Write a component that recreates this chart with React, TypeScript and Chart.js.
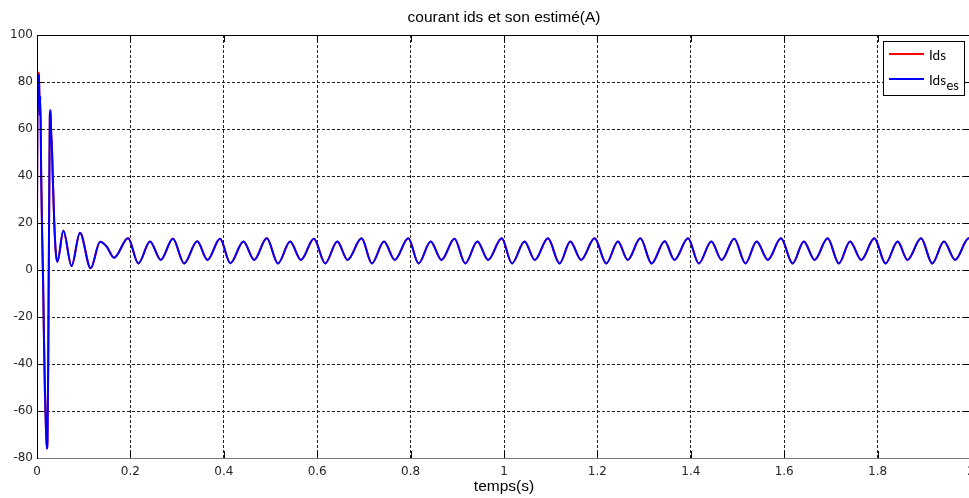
import React, { useEffect, useRef } from 'react';
import { Chart, registerables } from 'chart.js';

Chart.register(...registerables);

// ---- texts ----
const chartTitle = 'courant ids et son estimé(A)';
const xAxisTitle = 'temps(s)';
const seriesNames = ['Ids', 'Ids'];
const seriesSubscripts = ['', 'es'];
const seriesColors = ['#ff0000', '#0000ff'];

// ---- axes ----
const xMin = 0;
const xMax = 2;
const xStep = 0.2;
const yMin = -80;
const yMax = 100;
const yStep = 20;

// ---- data (time in s, current in A) ----
const timeValues = [
  0, 0.0015, 0.003, 0.0045, 0.0055, 0.007, 0.009, 0.011, 0.013, 0.015,
  0.017, 0.019, 0.021, 0.0225, 0.024, 0.025, 0.0265, 0.0275, 0.029, 0.03,
  0.032, 0.034, 0.037, 0.04, 0.0436, 0.0565, 0.074, 0.092, 0.115, 0.135,
  0.1495, 0.165,
  0.195, 0.217, 0.242, 0.265,
  0.291, 0.315, 0.343, 0.365,
  0.392, 0.414, 0.442, 0.465,
  0.492, 0.516, 0.542, 0.565,
  0.593, 0.617, 0.643, 0.665,
  0.695, 0.717, 0.743, 0.766,
  0.795, 0.817, 0.843, 0.866,
  0.894, 0.917, 0.943, 0.966,
  0.995, 1.017, 1.044, 1.066,
  1.094, 1.119, 1.142, 1.165,
  1.194, 1.219, 1.244, 1.265,
  1.292, 1.316, 1.344, 1.365,
  1.394, 1.417, 1.444, 1.466,
  1.493, 1.517, 1.541, 1.565,
  1.593, 1.618, 1.642, 1.665,
  1.693, 1.717, 1.741, 1.765,
  1.793, 1.817, 1.843, 1.864,
  1.893, 1.917, 1.942, 1.966,
  1.995, 2.0,
];

const idsValues = [
  23, 84, 80, 84, 66, 74, 40, 15, -4, -30,
  -52, -66, -76, -72, -40, -6, 40, 66, 68, 60,
  52, 38, 20, 8, 3.5, 16.7, 1.7, 15.9, 0.7, 12,
  9.9, 5.2,
  13.6, 2.8, 12.1, 4.3,
  13.4, 2.8, 12.2, 4.3,
  13.3, 2.9, 12.1, 4.3,
  13.6, 2.8, 12.1, 4.3,
  13.3, 2.8, 12.1, 4.3,
  13.5, 2.8, 12.1, 4.3,
  13.5, 2.8, 12.1, 4.3,
  13.3, 2.8, 12.1, 4.3,
  13.5, 2.8, 12.1, 4.3,
  13.5, 2.8, 12.1, 4.3,
  13.5, 2.8, 12.1, 4.3,
  13.5, 2.8, 12.2, 4.3,
  13.5, 2.8, 12.1, 4.3,
  13.3, 2.8, 12.1, 4.3,
  13.5, 2.8, 12.1, 4.3,
  13.5, 2.8, 12.1, 4.3,
  13.5, 2.8, 12.1, 4.3,
  13.5, 2.8, 12.1, 4.3,
  13.5, 13.2,
];

const idsEsValues = [
  23, 83, 80, 83, 66, 74, 40, 15, -4, -30,
  -52, -66, -76, -72, -40, -6, 40, 66, 68, 60,
  52, 38, 20, 8, 3.5, 16.7, 1.7, 15.9, 0.7, 12,
  9.9, 5.2,
  13.5, 2.8, 12.1, 4.3,
  13.3, 2.8, 12.2, 4.3,
  13.3, 2.9, 12.1, 4.3,
  13.5, 2.8, 12.1, 4.3,
  13.3, 2.8, 12.1, 4.3,
  13.5, 2.8, 12.1, 4.3,
  13.5, 2.8, 12.1, 4.3,
  13.3, 2.8, 12.1, 4.3,
  13.5, 2.8, 12.1, 4.3,
  13.5, 2.8, 12.1, 4.3,
  13.5, 2.8, 12.1, 4.3,
  13.5, 2.8, 12.2, 4.3,
  13.5, 2.8, 12.1, 4.3,
  13.3, 2.8, 12.1, 4.3,
  13.5, 2.8, 12.1, 4.3,
  13.5, 2.8, 12.1, 4.3,
  13.5, 2.8, 12.1, 4.3,
  13.5, 2.8, 12.1, 4.3,
  13.5, 13.2,
];

const TICK_FONT = { family: "'DejaVu Sans', sans-serif", size: 12 };

const titlePlugin = {
  id: 'matlabTitle',
  afterDraw(chart: any) {
    const { ctx, chartArea: a } = chart;
    ctx.save();
    ctx.fillStyle = '#000';
    ctx.font = "15.5px 'Liberation Sans', Arial, sans-serif";
    ctx.textAlign = 'center';
    ctx.textBaseline = 'middle';
    ctx.fillText(chartTitle, (a.left + a.right) / 2, 17.5);
    ctx.restore();
  },
};

const framePlugin = {
  id: 'matlabFrame',
  afterDatasetsDraw(chart: any) {
    const { ctx, chartArea: a, scales } = chart;
    const line = (x1: number, y1: number, x2: number, y2: number) => {
      ctx.beginPath();
      ctx.moveTo(x1, y1);
      ctx.lineTo(x2, y2);
      ctx.stroke();
    };
    ctx.save();
    ctx.lineWidth = 1;
    ctx.setLineDash([]);
    ctx.strokeStyle = '#000';
    const tl = 7;
    scales.x.ticks.forEach((t: any) => {
      const px = Math.round(scales.x.getPixelForValue(t.value)) + 0.5;
      line(px, a.bottom, px, a.bottom - tl);
      line(px, a.top, px, a.top + tl);
    });
    scales.y.ticks.forEach((t: any) => {
      const py = Math.round(scales.y.getPixelForValue(t.value)) + 0.5;
      line(a.left, py, a.left + tl, py);
      line(a.right, py, a.right - tl, py);
    });
    // top, left, right
    ctx.strokeStyle = '#000';
    line(a.left, a.top + 0.5, a.right, a.top + 0.5);
    line(a.left + 0.5, a.top, a.left + 0.5, a.bottom + 1);
    line(a.right - 0.5, a.top, a.right - 0.5, a.bottom);
    // bottom (grey)
    ctx.strokeStyle = '#7a7a7a';
    line(a.left + 1, a.bottom + 0.5, a.right, a.bottom + 0.5);
    ctx.restore();
  },
};

const legendPlugin = {
  id: 'matlabLegend',
  afterDraw(chart: any) {
    const { ctx } = chart;
    const box = { left: 883, top: 41, width: 82, height: 55 };
    ctx.save();
    ctx.fillStyle = '#fff';
    ctx.fillRect(box.left, box.top, box.width, box.height);
    ctx.strokeStyle = '#000';
    ctx.lineWidth = 1;
    ctx.strokeRect(box.left + 0.5, box.top + 0.5, box.width - 1, box.height - 1);
    const rowY = [box.top + 13, box.top + 38];
    seriesNames.forEach((name, i) => {
      const y = rowY[i];
      ctx.strokeStyle = seriesColors[i];
      ctx.lineWidth = 2;
      ctx.beginPath();
      ctx.moveTo(box.left + 6, y);
      ctx.lineTo(box.left + 41, y);
      ctx.stroke();
      ctx.fillStyle = '#000';
      ctx.font = "13.5px Lato, 'Open Sans', sans-serif";
      ctx.textAlign = 'left';
      ctx.textBaseline = 'alphabetic';
      const tx = box.left + 46;
      ctx.fillText(name, tx, y + 5.5);
      if (seriesSubscripts[i]) {
        const w = ctx.measureText(name).width;
        ctx.font = "13px Lato, 'Open Sans', sans-serif";
        ctx.fillText(seriesSubscripts[i], tx + w + 0.5, y + 11);
      }
    });
    ctx.restore();
  },
};

const formatTick = (v: number) => String(Number(v.toFixed(1)));

export default function App() {
  const canvasRef = useRef<HTMLCanvasElement | null>(null);

  useEffect(() => {
    const canvas = canvasRef.current;
    if (!canvas) return;
    const toPoints = (vals: number[]) => timeValues.map((t, i) => ({ x: t, y: vals[i] }));
    const chart = new Chart(canvas, {
      type: 'line',
      data: {
        datasets: [
          {
            label: seriesNames[0],
            data: toPoints(idsValues),
            borderColor: seriesColors[0],
            borderWidth: 2,
            pointRadius: 0,
            cubicInterpolationMode: 'monotone',
            fill: false,
            order: 2,
          },
          {
            label: seriesNames[1] + seriesSubscripts[1],
            data: toPoints(idsEsValues),
            borderColor: seriesColors[1],
            borderWidth: 2,
            pointRadius: 0,
            cubicInterpolationMode: 'monotone',
            fill: false,
            order: 1,
          },
        ],
      },
      options: {
        animation: false,
        responsive: false,
        maintainAspectRatio: false,
        devicePixelRatio: 1,
        layout: { padding: { top: 35, left: 0, right: 0, bottom: 0 } },
        plugins: {
          legend: { display: false },
          title: { display: false },
          tooltip: { enabled: false },
        },
        scales: {
          x: {
            type: 'linear',
            min: xMin,
            max: xMax,
            ticks: {
              stepSize: xStep,
              color: '#262626',
              font: TICK_FONT,
              padding: 7,
              maxRotation: 0,
              autoSkip: false,
              callback: (v: any) => formatTick(Number(v)),
            },
            grid: { color: '#222', lineWidth: 1, drawTicks: false },
            border: { display: false, dash: [3, 2] },
            title: {
              display: true,
              text: xAxisTitle,
              color: '#000',
              font: { family: "'Liberation Sans', Arial, sans-serif", size: 15.5 },
              padding: { top: 0, bottom: 2 },
            },
            afterFit: (s: any) => {
              s.height = 40;
              s.paddingLeft = 0;
              s.paddingRight = 0;
            },
          },
          y: {
            type: 'linear',
            min: yMin,
            max: yMax,
            ticks: {
              stepSize: yStep,
              color: '#262626',
              font: TICK_FONT,
              padding: 4,
            },
            grid: { color: '#222', lineWidth: 1, drawTicks: false },
            border: { display: false, dash: [3, 2] },
            afterFit: (s: any) => {
              s.width = 37;
              s.paddingTop = 0;
              s.paddingBottom = 0;
            },
          },
        },
      } as any,
      plugins: [framePlugin, titlePlugin, legendPlugin],
    });
    return () => chart.destroy();
  }, []);

  return (
    <div
      style={{
        position: 'absolute',
        left: 0,
        top: 0,
        width: 969,
        height: 498,
        overflow: 'hidden',
        background: '#fff',
      }}
    >
      <canvas ref={canvasRef} width={971} height={498} style={{ display: 'block' }} />
    </div>
  );
}
